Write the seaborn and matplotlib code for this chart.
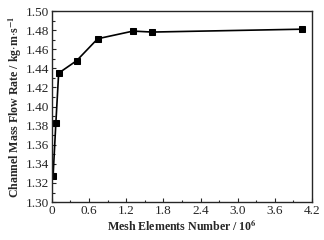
import matplotlib
matplotlib.use("Agg")
import matplotlib.pyplot as plt
import seaborn as sns
import pandas as pd
from matplotlib.ticker import MultipleLocator

# Data
mesh_elements = [0.02, 0.065, 0.11, 0.40, 0.74, 1.31, 1.62, 4.04]
flow_rate = [1.327, 1.383, 1.435, 1.448, 1.471, 1.479, 1.478, 1.481]
x_ticks = [0, 0.6, 1.2, 1.8, 2.4, 3.0, 3.6, 4.2]
x_tick_labels = ["0", "0.6", "1.2", "1.8", "2.4", "3.0", "3.6", "4.2"]

df = pd.DataFrame({"mesh": mesh_elements, "flow": flow_rate})

sns.set_style("ticks")
plt.rcParams["font.family"] = ["Liberation Serif", "DejaVu Serif"]
plt.rcParams["mathtext.fontset"] = "stix"

fig = plt.figure(figsize=(3.24, 2.4), dpi=100)
ax = fig.add_axes([0.160, 0.158, 0.803, 0.796])

sns.lineplot(data=df, x="mesh", y="flow", ax=ax, color="black", linewidth=1.2,
             marker="s", markersize=4, markeredgecolor="black")

ax.set_xlim(0, 4.2)
ax.set_ylim(1.30, 1.50)
ax.set_xticks(x_ticks)
ax.set_xticklabels(x_tick_labels)
ax.xaxis.set_minor_locator(MultipleLocator(0.3))
ax.yaxis.set_major_locator(MultipleLocator(0.02))
ax.yaxis.set_minor_locator(MultipleLocator(0.01))
ax.yaxis.set_major_formatter(matplotlib.ticker.FormatStrFormatter("%.2f"))

ax.tick_params(which="both", direction="in", top=False, right=False, labelsize=9.5, pad=2)
ax.tick_params(which="major", length=3, width=0.8)
ax.tick_params(which="minor", length=1.8, width=0.8)
for s in ax.spines.values():
    s.set_linewidth(1.0)
    s.set_visible(True)

ax.set_xlabel(r"Mesh Elements Number / 10$^{\mathbf{6}}$", fontsize=8.6, fontweight="bold", labelpad=1)
ax.set_ylabel(r"Channel Mass Flow Rate / kg$\cdot$m$\cdot$s$^{\mathbf{-1}}$", fontsize=8.6,
              fontweight="bold", labelpad=1)

plt.savefig("out.png", dpi=100)
